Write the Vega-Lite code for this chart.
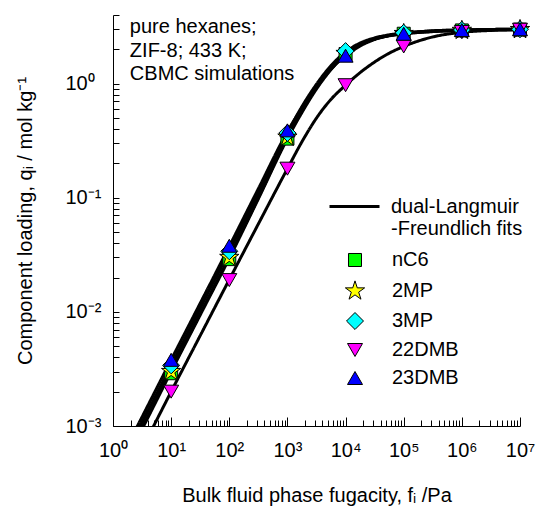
{
  "$schema": "https://vega.github.io/schema/vega-lite/v6.json",
  "width": 407,
  "height": 411,
  "autosize": {"type": "none"},
  "padding": {"left": 113, "top": 15, "right": 26, "bottom": 82},
  "background": "white",
  "datasets": {
    "curves": [
      {"species": "nC6", "f": 2, "q": 0.0006},
      {"species": "nC6", "f": 3.162, "q": 0.00094},
      {"species": "nC6", "f": 10, "q": 0.003},
      {"species": "nC6", "f": 31.62, "q": 0.0094},
      {"species": "nC6", "f": 100, "q": 0.0295},
      {"species": "nC6", "f": 316.2, "q": 0.098},
      {"species": "nC6", "f": 1000, "q": 0.33},
      {"species": "nC6", "f": 1778, "q": 0.56},
      {"species": "nC6", "f": 3162, "q": 0.9},
      {"species": "nC6", "f": 5623, "q": 1.33},
      {"species": "nC6", "f": 10000, "q": 1.8},
      {"species": "nC6", "f": 17783, "q": 2.2},
      {"species": "nC6", "f": 31623, "q": 2.47},
      {"species": "nC6", "f": 56234, "q": 2.64},
      {"species": "nC6", "f": 100000, "q": 2.74},
      {"species": "nC6", "f": 316228, "q": 2.86},
      {"species": "nC6", "f": 1000000, "q": 2.93},
      {"species": "nC6", "f": 3162278, "q": 2.96},
      {"species": "nC6", "f": 10000000, "q": 2.98},
      {"species": "2MP", "f": 2, "q": 0.00062},
      {"species": "2MP", "f": 3.162, "q": 0.00097},
      {"species": "2MP", "f": 10, "q": 0.0031},
      {"species": "2MP", "f": 31.62, "q": 0.0097},
      {"species": "2MP", "f": 100, "q": 0.0305},
      {"species": "2MP", "f": 316.2, "q": 0.1},
      {"species": "2MP", "f": 1000, "q": 0.34},
      {"species": "2MP", "f": 1778, "q": 0.575},
      {"species": "2MP", "f": 3162, "q": 0.92},
      {"species": "2MP", "f": 5623, "q": 1.35},
      {"species": "2MP", "f": 10000, "q": 1.81},
      {"species": "2MP", "f": 17783, "q": 2.19},
      {"species": "2MP", "f": 31623, "q": 2.46},
      {"species": "2MP", "f": 56234, "q": 2.63},
      {"species": "2MP", "f": 100000, "q": 2.74},
      {"species": "2MP", "f": 316228, "q": 2.87},
      {"species": "2MP", "f": 1000000, "q": 2.93},
      {"species": "2MP", "f": 3162278, "q": 2.96},
      {"species": "2MP", "f": 10000000, "q": 2.98},
      {"species": "3MP", "f": 2, "q": 0.00069},
      {"species": "3MP", "f": 3.162, "q": 0.00108},
      {"species": "3MP", "f": 10, "q": 0.0034},
      {"species": "3MP", "f": 31.62, "q": 0.0108},
      {"species": "3MP", "f": 100, "q": 0.034},
      {"species": "3MP", "f": 316.2, "q": 0.11},
      {"species": "3MP", "f": 1000, "q": 0.37},
      {"species": "3MP", "f": 1778, "q": 0.63},
      {"species": "3MP", "f": 3162, "q": 0.99},
      {"species": "3MP", "f": 5623, "q": 1.44},
      {"species": "3MP", "f": 10000, "q": 1.9},
      {"species": "3MP", "f": 17783, "q": 2.27},
      {"species": "3MP", "f": 31623, "q": 2.52},
      {"species": "3MP", "f": 56234, "q": 2.68},
      {"species": "3MP", "f": 100000, "q": 2.78},
      {"species": "3MP", "f": 316228, "q": 2.9},
      {"species": "3MP", "f": 1000000, "q": 2.96},
      {"species": "3MP", "f": 3162278, "q": 2.99},
      {"species": "3MP", "f": 10000000, "q": 3.0},
      {"species": "22DMB", "f": 3.162, "q": 0.00063},
      {"species": "22DMB", "f": 10, "q": 0.002},
      {"species": "22DMB", "f": 31.62, "q": 0.0062},
      {"species": "22DMB", "f": 100, "q": 0.0192},
      {"species": "22DMB", "f": 316.2, "q": 0.059},
      {"species": "22DMB", "f": 1000, "q": 0.18},
      {"species": "22DMB", "f": 1778, "q": 0.31},
      {"species": "22DMB", "f": 3162, "q": 0.5},
      {"species": "22DMB", "f": 5623, "q": 0.73},
      {"species": "22DMB", "f": 10000, "q": 0.97},
      {"species": "22DMB", "f": 17783, "q": 1.25},
      {"species": "22DMB", "f": 31623, "q": 1.55},
      {"species": "22DMB", "f": 56234, "q": 1.85},
      {"species": "22DMB", "f": 100000, "q": 2.12},
      {"species": "22DMB", "f": 316228, "q": 2.57},
      {"species": "22DMB", "f": 1000000, "q": 2.82},
      {"species": "22DMB", "f": 3162278, "q": 2.93},
      {"species": "22DMB", "f": 10000000, "q": 2.98},
      {"species": "23DMB", "f": 2, "q": 0.00076},
      {"species": "23DMB", "f": 3.162, "q": 0.0012},
      {"species": "23DMB", "f": 10, "q": 0.0038},
      {"species": "23DMB", "f": 31.62, "q": 0.0119},
      {"species": "23DMB", "f": 100, "q": 0.0375},
      {"species": "23DMB", "f": 316.2, "q": 0.12},
      {"species": "23DMB", "f": 1000, "q": 0.38},
      {"species": "23DMB", "f": 1778, "q": 0.615},
      {"species": "23DMB", "f": 3162, "q": 0.943},
      {"species": "23DMB", "f": 5623, "q": 1.347},
      {"species": "23DMB", "f": 10000, "q": 1.76},
      {"species": "23DMB", "f": 17783, "q": 2.14},
      {"species": "23DMB", "f": 31623, "q": 2.44},
      {"species": "23DMB", "f": 56234, "q": 2.64},
      {"species": "23DMB", "f": 100000, "q": 2.76},
      {"species": "23DMB", "f": 316228, "q": 2.91},
      {"species": "23DMB", "f": 1000000, "q": 2.96},
      {"species": "23DMB", "f": 3162278, "q": 2.99},
      {"species": "23DMB", "f": 10000000, "q": 3.0}
    ],
    "points": [
      {"species": "nC6", "f": 10, "q": 0.0029},
      {"species": "nC6", "f": 100, "q": 0.029},
      {"species": "nC6", "f": 1000, "q": 0.33},
      {"species": "nC6", "f": 10000, "q": 1.82},
      {"species": "nC6", "f": 100000, "q": 2.74},
      {"species": "nC6", "f": 1000000, "q": 2.93},
      {"species": "nC6", "f": 10000000, "q": 2.98},
      {"species": "2MP", "f": 10, "q": 0.003},
      {"species": "2MP", "f": 100, "q": 0.03},
      {"species": "2MP", "f": 1000, "q": 0.34},
      {"species": "2MP", "f": 10000, "q": 1.84},
      {"species": "2MP", "f": 100000, "q": 2.75},
      {"species": "2MP", "f": 1000000, "q": 2.93},
      {"species": "2MP", "f": 10000000, "q": 2.98},
      {"species": "3MP", "f": 10, "q": 0.0034},
      {"species": "3MP", "f": 100, "q": 0.034},
      {"species": "3MP", "f": 1000, "q": 0.37},
      {"species": "3MP", "f": 10000, "q": 1.93},
      {"species": "3MP", "f": 100000, "q": 2.79},
      {"species": "3MP", "f": 1000000, "q": 2.96},
      {"species": "3MP", "f": 10000000, "q": 3.0},
      {"species": "22DMB", "f": 10, "q": 0.002},
      {"species": "22DMB", "f": 100, "q": 0.019},
      {"species": "22DMB", "f": 1000, "q": 0.18},
      {"species": "22DMB", "f": 10000, "q": 0.97},
      {"species": "22DMB", "f": 100000, "q": 2.12},
      {"species": "22DMB", "f": 1000000, "q": 2.84},
      {"species": "22DMB", "f": 10000000, "q": 2.97},
      {"species": "23DMB", "f": 10, "q": 0.0038},
      {"species": "23DMB", "f": 100, "q": 0.038},
      {"species": "23DMB", "f": 1000, "q": 0.39},
      {"species": "23DMB", "f": 10000, "q": 1.76},
      {"species": "23DMB", "f": 100000, "q": 2.74},
      {"species": "23DMB", "f": 1000000, "q": 2.95},
      {"species": "23DMB", "f": 10000000, "q": 3.0}
    ],
    "note": [
      {"f": 1.95, "q": 2.78, "label": "pure hexanes;\nZIF-8; 433 K;\nCBMC simulations"}
    ]
  },
  "encoding": {
    "x": {
      "field": "f",
      "type": "quantitative",
      "scale": {"type": "log", "domain": [1, 10000000], "nice": false},
      "axis": {
        "title": "Bulk fluid phase fugacity, fᵢ /Pa",
        "values": [1,2,3,4,5,6,7,8,9,10,20,30,40,50,60,70,80,90,100,200,300,400,500,600,700,800,900,1000,2000,3000,4000,5000,6000,7000,8000,9000,10000,20000,30000,40000,50000,60000,70000,80000,90000,100000,200000,300000,400000,500000,600000,700000,800000,900000,1000000,2000000,3000000,4000000,5000000,6000000,7000000,8000000,9000000,10000000],
        "labelExpr": "abs(log(datum.value)/LN10 - round(log(datum.value)/LN10)) < 0.000001 ? '10' + ['⁰','¹','²','³','⁴','⁵','⁶','⁷'][round(log(datum.value)/LN10)] : ''",
        "tickSize": {"condition": {"test": "abs(log(datum.value)/LN10 - round(log(datum.value)/LN10)) < 0.000001", "value": -9}, "value": -6},
        "labelPadding": 33,
        "labelBaseline": "middle",
        "titlePadding": 22
      }
    },
    "y": {
      "field": "q",
      "type": "quantitative",
      "scale": {"type": "log", "domain": [0.001, 4], "nice": false},
      "axis": {
        "title": "Component loading, qᵢ / mol kg⁻¹",
        "values": [0.001,0.002,0.003,0.004,0.005,0.006,0.007,0.008,0.009,0.01,0.02,0.03,0.04,0.05,0.06,0.07,0.08,0.09,0.1,0.2,0.3,0.4,0.5,0.6,0.7,0.8,0.9,1,2,3,4],
        "labelExpr": "abs(log(datum.value)/LN10 - round(log(datum.value)/LN10)) < 0.000001 ? (round(log(datum.value)/LN10) < 0 ? '10⁻' + ['⁰','¹','²','³'][-round(log(datum.value)/LN10)] : '10⁰') : ''",
        "tickSize": -6,
        "labelPadding": 54,
        "labelAlign": "left",
        "labelBaseline": "middle",
        "titlePadding": 30
      }
    }
  },
  "layer": [
    {
      "data": {"name": "curves"},
      "mark": {"type": "line", "clip": true, "interpolate": "monotone", "color": "black", "strokeWidth": 3},
      "encoding": {
        "detail": {"field": "species"},
        "strokeDash": {
          "datum": "fits",
          "type": "nominal",
          "scale": {"range": [[1, 0]]},
          "legend": {
            "orient": "none",
            "legendX": 215,
            "legendY": 165,
            "title": null,
            "padding": 0,
            "symbolType": "stroke",
            "symbolSize": 2500,
            "symbolStrokeWidth": 3,
            "symbolStrokeColor": "black",
            "labelExpr": "['dual-Langmuir', '-Freundlich  fits']",
            "labelFontSize": 20,
            "labelFont": "Liberation Sans",
            "labelColor": "black",
            "labelOffset": 10,
            "labelLimit": 300
          }
        }
      }
    },
    {
      "data": {"name": "points"},
      "mark": {"type": "point", "filled": true, "size": 225, "opacity": 1},
      "encoding": {
        "stroke": {"value": "black"},
        "strokeWidth": {"value": 1},
        "fill": {
          "field": "species",
          "type": "nominal",
          "scale": {"domain": ["nC6", "2MP", "3MP", "22DMB", "23DMB"], "range": ["#00ff00", "#ffff00", "#00ffff", "#ff00ff", "#0000ff"]},
          "legend": {"orient": "none", "legendX": 232, "legendY": 235, "title": null, "padding": 0, "labelFontSize": 20, "labelFont": "Liberation Sans", "labelColor": "black", "labelOffset": 27, "rowPadding": 8, "symbolSize": 225, "symbolStrokeColor": "black", "symbolStrokeWidth": 1, "symbolOpacity": 1, "encode": {"symbols": {"update": {"stroke": {"value": "black"}, "strokeWidth": {"value": 1}}}}}
        },
        "shape": {
          "field": "species",
          "type": "nominal",
          "scale": {"domain": ["nC6", "2MP", "3MP", "22DMB", "23DMB"], "range": ["M-0.867,-0.867H0.867V0.867H-0.867Z", "M0,-1.35L0.303,-0.417L1.284,-0.417L0.49,0.159L0.794,1.092L0,0.516L-0.794,1.092L-0.49,0.159L-1.284,-0.417L-0.303,-0.417Z", "M0,-1.133L1.133,0L0,1.133L-1.133,0Z", "triangle-down", "triangle-up"]},
          "legend": {"orient": "none", "legendX": 232, "legendY": 235, "title": null, "padding": 0, "labelFontSize": 20, "labelFont": "Liberation Sans", "labelColor": "black", "labelOffset": 27, "rowPadding": 8, "symbolSize": 225, "symbolStrokeColor": "black", "symbolStrokeWidth": 1, "symbolOpacity": 1, "encode": {"symbols": {"update": {"stroke": {"value": "black"}, "strokeWidth": {"value": 1}}}}}
        }
      }
    },
    {
      "data": {"name": "note"},
      "mark": {"type": "text", "align": "left", "baseline": "alphabetic", "fontSize": 20, "font": "Liberation Sans", "lineBreak": "\n", "lineHeight": 23.5, "color": "black"},
      "encoding": {"text": {"field": "label"}}
    }
  ],
  "config": {
    "view": {"stroke": null},
    "axis": {
      "grid": false,
      "domainColor": "black",
      "domainWidth": 1,
      "tickColor": "black",
      "tickWidth": 1,
      "labelColor": "black",
      "labelFont": "Liberation Sans",
      "labelFontSize": 20,
      "labelFlush": false,
      "labelOverlap": false,
      "labelBound": false,
      "titleColor": "black",
      "titleFont": "Liberation Sans",
      "titleFontSize": 20,
      "titleFontWeight": "normal"
    }
  }
}
